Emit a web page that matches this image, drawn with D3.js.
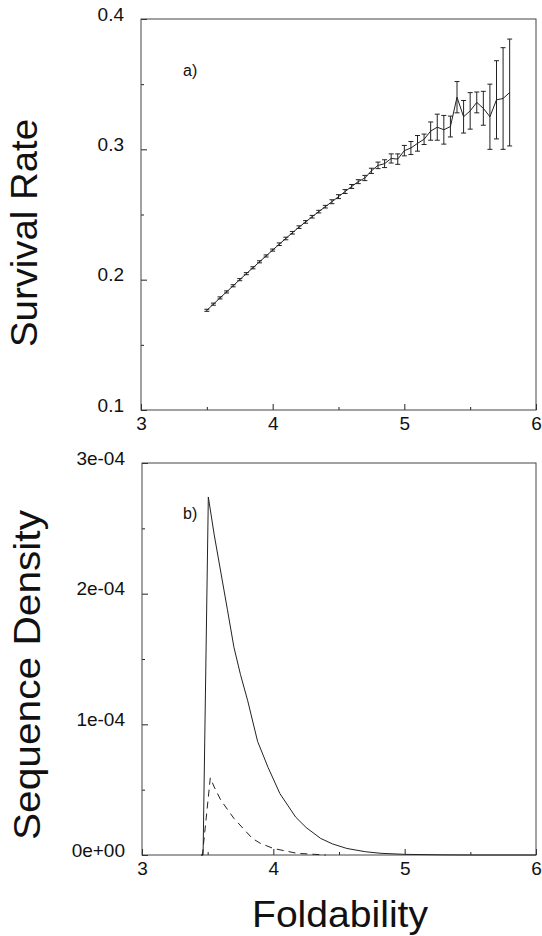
<!DOCTYPE html>
<html>
<head>
<meta charset="utf-8">
<script src="https://cdn.jsdelivr.net/npm/d3@7"></script>
<style>
  body { margin: 0; background: #fff; }
  svg { display: block; font-family: "Liberation Sans", Arial, Helvetica, sans-serif; }
</style>
</head>
<body>
<svg id="chart" width="542" height="936"></svg>
<script>
// panel a) survival rate vs foldability
let foldX = [3.50, 3.55, 3.60, 3.65, 3.70, 3.75, 3.80, 3.85, 3.90, 3.95,
             4.00, 4.05, 4.10, 4.15, 4.20, 4.25, 4.30, 4.35, 4.40, 4.45,
             4.50, 4.55, 4.60, 4.65, 4.70, 4.75, 4.80, 4.85, 4.90, 4.95,
             5.00, 5.05, 5.10, 5.15, 5.20, 5.25, 5.30, 5.35, 5.40, 5.45,
             5.50, 5.55, 5.60, 5.65, 5.70, 5.75, 5.80];
let survival = [0.1765, 0.1812, 0.1860, 0.1906, 0.1953, 0.2000, 0.2046, 0.2091, 0.2137, 0.2182,
                0.2227, 0.2272, 0.2316, 0.2360, 0.2403, 0.2443, 0.2483, 0.2522, 0.2560, 0.2598,
                0.2637, 0.2676, 0.2715, 0.2752, 0.2780, 0.2835, 0.2877, 0.2890, 0.2930, 0.2925,
                0.2990, 0.3010, 0.3046, 0.3077, 0.3140, 0.3170, 0.3150, 0.3175, 0.3400, 0.3250,
                0.3295, 0.3360, 0.3315, 0.3250, 0.3380, 0.3390, 0.3436];
let survivalErr = [0.0008, 0.0008, 0.0008, 0.0008, 0.0008, 0.0008, 0.0008, 0.0008, 0.0008, 0.0008,
                   0.0008, 0.0010, 0.0010, 0.0010, 0.0010, 0.0010, 0.0010, 0.0010, 0.0010, 0.0015,
                   0.0015, 0.0015, 0.0015, 0.0015, 0.0020, 0.0020, 0.0025, 0.0030, 0.0035, 0.0040,
                   0.0040, 0.0050, 0.0060, 0.0040, 0.0070, 0.0100, 0.0110, 0.0080, 0.0120, 0.0125,
                   0.0140, 0.0080, 0.0130, 0.0250, 0.0300, 0.0390, 0.0410];

// panel b) sequence density (units of 1e-4)
let densX = [3.45, 3.465, 3.505, 3.55, 3.585, 3.65, 3.70, 3.75, 3.805, 3.88,
             3.96, 4.05, 4.17, 4.25, 4.36, 4.45, 4.56, 4.70, 4.82, 5.00, 5.30, 5.50, 6.00];
let densAll = [0, 0, 2.74, 2.45, 2.25, 1.88, 1.59, 1.38, 1.18, 0.87,
               0.67, 0.47, 0.29, 0.21, 0.127, 0.085, 0.05, 0.025, 0.013, 0.005, 0.001, 0, 0];
let dashX = [3.45, 3.46, 3.52, 3.55, 3.60, 3.70, 3.84, 3.90, 4.00, 4.18, 4.40];
let densSurv = [0, 0, 0.59, 0.52, 0.42, 0.28, 0.127, 0.09, 0.05, 0.013, 0];

let xTicks = [3, 4, 5, 6];
let xMinor = [3.5, 4.5, 5.5];
let yTicksA = [0.1, 0.2, 0.3, 0.4];
let yMinorA = [0.15, 0.25, 0.35];
let yTicksB = [0, 1, 2, 3];
let yMinorB = [0.5, 1.5, 2.5];
let yLabelsB = ["0e+00", "1e-04", "2e-04", "3e-04"];

let svg = d3.select('#chart');
let ink = '#222';

// draws box, inward ticks and labels for one panel
function drawFrame(g, x, y, w, h, yTicks, yMinor, yFormat) {
    g.append('g')
        .attr('transform', 'translate(0,' + h + ')')
        .call(d3.axisBottom(x).tickValues(xTicks).tickSize(-6).tickSizeOuter(0).tickPadding(7).tickFormat(d3.format('d')))
        .call(a => a.select('.domain').remove())
        .call(a => a.selectAll('text').attr('font-size', 19).attr('fill', '#111').attr('font-family', null));
    g.append('g')
        .attr('transform', 'translate(0,' + h + ')')
        .call(d3.axisBottom(x).tickValues(xMinor).tickSize(-3).tickSizeOuter(0).tickFormat(''))
        .call(a => a.select('.domain').remove());
    g.append('g')
        .call(d3.axisLeft(y).tickValues(yTicks).tickSize(-6).tickSizeOuter(0).tickPadding(17).tickFormat(yFormat))
        .call(a => a.select('.domain').remove())
        .call(a => a.selectAll('text').attr('font-size', 19).attr('dy', '0.06em').attr('fill', '#111').attr('font-family', null));
    g.append('g')
        .call(d3.axisLeft(y).tickValues(yMinor).tickSize(-3).tickSizeOuter(0).tickFormat(''))
        .call(a => a.select('.domain').remove());
    g.selectAll('.tick line').attr('stroke', ink);
    g.append('rect')
        .attr('width', w).attr('height', h)
        .attr('fill', 'none').attr('stroke', '#444').attr('stroke-width', 1);
}

// ---- panel a ----
let wA = 395, hA = 391;
let gA = svg.append('g').attr('transform', 'translate(141,19)');
let xA = d3.scaleLinear().domain([3, 6]).range([0, wA]);
let yA = d3.scaleLinear().domain([0.1, 0.4]).range([hA, 0]);
drawFrame(gA, xA, yA, wA, hA, yTicksA, yMinorA, d3.format('.1f'));

let ptsA = foldX.map((d, i) => ({x: d, y: survival[i], e: survivalErr[i]}));
gA.append('path')
    .datum(ptsA)
    .attr('fill', 'none').attr('stroke', ink).attr('stroke-width', 1)
    .attr('d', d3.line().x(d => xA(d.x)).y(d => yA(d.y)));

let bars = gA.selectAll('g.err').data(ptsA).enter().append('g').attr('class', 'err');
bars.append('line')
    .attr('x1', d => xA(d.x)).attr('x2', d => xA(d.x))
    .attr('y1', d => yA(d.y - d.e)).attr('y2', d => yA(d.y + d.e))
    .attr('stroke', ink).attr('stroke-width', 1);
bars.append('line')
    .attr('x1', d => xA(d.x) - 2.5).attr('x2', d => xA(d.x) + 2.5)
    .attr('y1', d => yA(d.y - d.e)).attr('y2', d => yA(d.y - d.e))
    .attr('stroke', ink).attr('stroke-width', 1);
bars.append('line')
    .attr('x1', d => xA(d.x) - 2.5).attr('x2', d => xA(d.x) + 2.5)
    .attr('y1', d => yA(d.y + d.e)).attr('y2', d => yA(d.y + d.e))
    .attr('stroke', ink).attr('stroke-width', 1);

gA.append('text').attr('x', 42).attr('y', 57).attr('font-size', 16).attr('fill', '#111').text('a)');

// ---- panel b ----
let wB = 394, hB = 392;
let gB = svg.append('g').attr('transform', 'translate(142,463)');
let xB = d3.scaleLinear().domain([3, 6]).range([0, wB]);
let yB = d3.scaleLinear().domain([0, 3]).range([hB, 0]);
drawFrame(gB, xB, yB, wB, hB, yTicksB, yMinorB, (d, i) => yLabelsB[i]);

let lineB = d3.line().x(d => xB(d[0])).y(d => yB(d[1]));
gB.append('path')
    .datum(densX.map((d, i) => [d, densAll[i]]))
    .attr('fill', 'none').attr('stroke', ink).attr('stroke-width', 1)
    .attr('d', lineB);
gB.append('path')
    .datum(dashX.map((d, i) => [d, densSurv[i]]))
    .attr('fill', 'none').attr('stroke', ink).attr('stroke-width', 1)
    .attr('stroke-dasharray', '7,5')
    .attr('d', lineB);

gB.append('text').attr('x', 41).attr('y', 56).attr('font-size', 16).attr('fill', '#111').text('b)');

// ---- axis titles ----
svg.append('text')
    .attr('transform', 'translate(37,347) rotate(-90)')
    .attr('font-size', 36).attr('fill', '#111')
    .attr('textLength', 228).attr('lengthAdjust', 'spacingAndGlyphs')
    .text('Survival Rate');
svg.append('text')
    .attr('transform', 'translate(40,840) rotate(-90)')
    .attr('font-size', 36).attr('fill', '#111')
    .attr('textLength', 330).attr('lengthAdjust', 'spacingAndGlyphs')
    .text('Sequence Density');
svg.append('text')
    .attr('x', 252).attr('y', 927)
    .attr('font-size', 36).attr('fill', '#111')
    .attr('textLength', 176).attr('lengthAdjust', 'spacingAndGlyphs')
    .text('Foldability');
</script>
</body>
</html>
